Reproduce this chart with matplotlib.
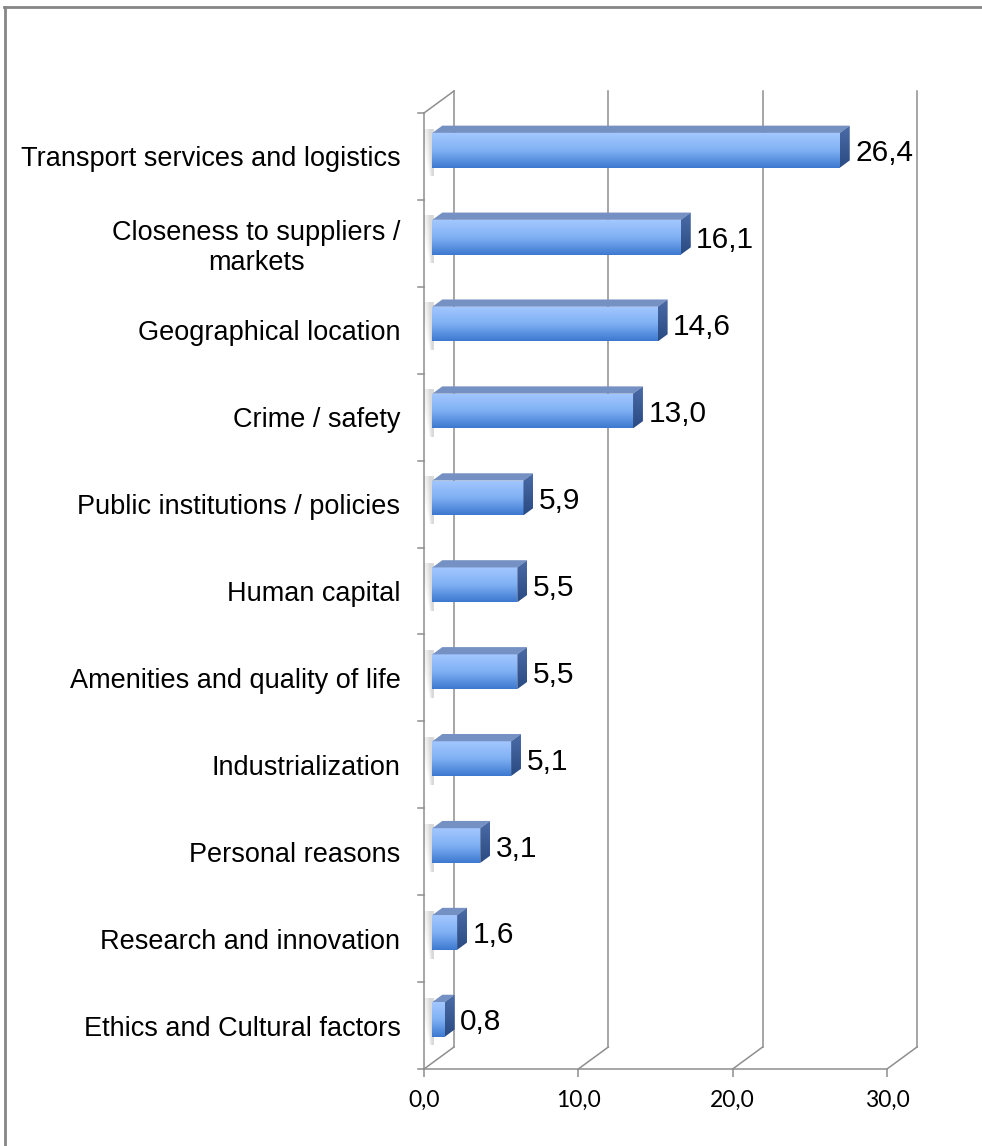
import numpy as np
import matplotlib.pyplot as plt
from matplotlib.colors import LinearSegmentedColormap
from matplotlib.patches import Polygon, Rectangle
from matplotlib.lines import Line2D

plt.rcParams['font.family'] = ['Liberation Sans', 'DejaVu Sans']

categories = ["Transport services and logistics",
              "Closeness to suppliers /\nmarkets",
              "Geographical location",
              "Crime / safety",
              "Public institutions / policies",
              "Human capital",
              "Amenities and quality of life",
              "Industrialization",
              "Personal reasons",
              "Research and innovation",
              "Ethics and Cultural factors"]
values = [26.4, 16.1, 14.6, 13.0, 5.9, 5.5, 5.5, 5.1, 3.1, 1.6, 0.8]
xticks = [0, 10, 20, 30]
xticklabels = ['0,0', '10,0', '20,0', '30,0']

W, H = 982, 1146
fig = plt.figure(figsize=(W / 100, H / 100), dpi=100)
ax = fig.add_axes([424 / W, (H - 1069) / H, (887 - 424) / W, (1069 - 113) / H])
n = len(categories)
ax.set_xlim(0, 30)
ax.set_ylim(-0.5, n - 0.5)

# depth of the 3d walls (30 px right, 22 px up) in data units
DX = 30 / (463 / 30)
DY = 22 / (956 / n)
f0, fd, bh = 0.28, 0.33, 0.40
grid = '#8e8e8e'
lw = 1.1

front_cmap = LinearSegmentedColormap.from_list('front', ['#3d79d0', '#7fb0f4', '#a3c7ff'])
side_cmap = LinearSegmentedColormap.from_list('side', ['#2a4a82', '#4b6ca8'])
grad = np.linspace(0, 1, 64).reshape(-1, 1)

# walls / gridlines
ax.plot([0, 0], [-0.5, n - 0.5], color=grid, lw=lw, clip_on=False)
ax.plot([0, DX], [n - 0.5, n - 0.5 + DY], color=grid, lw=lw, clip_on=False)
for k in range(n + 1):
    ax.plot([-0.4, 0], [k - 0.5, k - 0.5], color=grid, lw=lw, clip_on=False)
ax.plot([0, 30], [-0.5, -0.5], color=grid, lw=lw, clip_on=False)
for t in xticks:
    ax.plot([t, t + DX], [-0.5, -0.5 + DY], color=grid, lw=lw, clip_on=False)
    ax.plot([t + DX, t + DX], [-0.5 + DY, n - 0.5 + DY], color=grid, lw=lw, clip_on=False)

for i, (cat, v) in enumerate(zip(categories, values)):
    y = n - 1 - i
    x0 = f0 * DX
    x1 = x0 + v
    y0 = y - bh / 2 + f0 * DY
    y1 = y0 + bh
    bdx, bdy = fd * DX, fd * DY

    # soft shadow falling to the left of the bar
    for s, a in [(0.8, 0.025), (0.65, 0.03), (0.5, 0.04), (0.35, 0.05), (0.2, 0.07)]:
        ax.add_patch(Polygon([(x0 - s, y1 + bdy * 0.6), (x0 + 0.1, y1 + bdy * 0.6),
                              (x0 + 0.1, y0 - 0.1), (x0 - s * 0.2, y0 - 0.1)],
                             closed=True, facecolor='#505050', alpha=a, lw=0, zorder=2))

    front = Rectangle((x0, y0), v, bh, facecolor='none', edgecolor='none', zorder=3)
    ax.add_patch(front)
    im = ax.imshow(grad, cmap=front_cmap, extent=(x0, x1, y0, y1), origin='lower',
                   aspect='auto', zorder=3)
    im.set_clip_path(front)

    top = Polygon([(x0, y1), (x0 + bdx, y1 + bdy), (x1 + bdx, y1 + bdy), (x1, y1)],
                  closed=True, facecolor='#7591c4', edgecolor='none', zorder=3)
    ax.add_patch(top)

    side = Polygon([(x1, y0), (x1, y1), (x1 + bdx, y1 + bdy), (x1 + bdx, y0 + bdy)],
                   closed=True, facecolor='none', edgecolor='none', zorder=3)
    ax.add_patch(side)
    im2 = ax.imshow(grad, cmap=side_cmap, extent=(x1, x1 + bdx, y0, y1 + bdy),
                    origin='lower', aspect='auto', zorder=3)
    im2.set_clip_path(side)

    ax.text(x1 + bdx + 0.35, y + f0 * DY, f'{v:.1f}'.replace('.', ','),
            va='center_baseline', ha='left', fontsize=21.5, color='black', zorder=4)

ax.set_xlim(0, 30)
ax.set_ylim(-0.5, n - 0.5)

ax.set_yticks([n - 1 - i for i in range(n)])
ax.set_yticklabels(categories, fontsize=19.5, multialignment='center')
ax.tick_params(axis='y', length=0, pad=17)
ax.set_xticks(xticks)
ax.set_xticklabels(xticklabels, fontsize=16.5, family='Lato')
ax.tick_params(axis='x', length=6, width=lw, color=grid, pad=9)
for s in ax.spines.values():
    s.set_visible(False)

# chart area border (top and left only visible)
fig.add_artist(Line2D([4 / W, 1], [1 - 7 / H, 1 - 7 / H], color='#868686', lw=2,
                      transform=fig.transFigure))
fig.add_artist(Line2D([5 / W, 5 / W], [0, 1 - 7 / H], color='#868686', lw=2,
                      transform=fig.transFigure))

fig.savefig('out.png', dpi=100)
